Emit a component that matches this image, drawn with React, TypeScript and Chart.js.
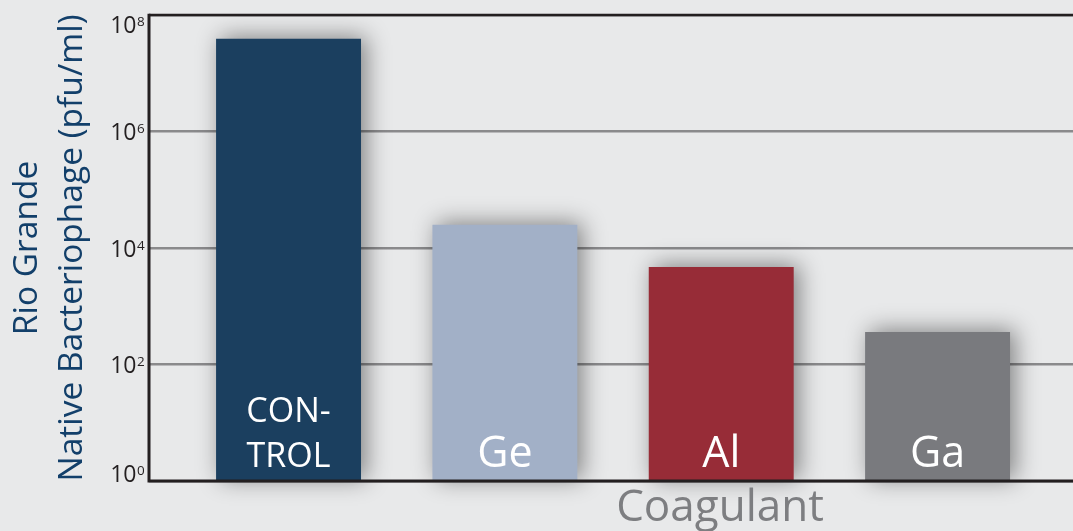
import React, { useEffect, useRef } from "react";
import { Chart, registerables } from "chart.js";

Chart.register(...registerables);

const categories = ["CONTROL", "Ge", "Al", "Ga"];
const barLabels = [["CON-", "TROL"], ["Ge"], ["Al"], ["Ga"]];
const phageValues = [3.9e7, 2.5e4, 4.7e3, 360];
const barColors = ["#1b3f5f", "#a2b0c7", "#972c37", "#797a7e"];
const tickValues = [1, 1e2, 1e4, 1e6, 1e8];
const tickExponents = ["0", "2", "4", "6", "8"];
const yTitleLines = ["Rio Grande", "Native Bacteriophage (pfu/ml)"];
const xTitle = "Coagulant";

const FONT = "'Open Sans', 'Noto Sans', sans-serif";

export default function App() {
  const canvasRef = useRef<HTMLCanvasElement | null>(null);

  useEffect(() => {
    document.body.style.margin = "0";
    document.body.style.background = "#e8e9ea";
    const canvas = canvasRef.current;
    if (!canvas) return;

    const shadowPlugin = {
      id: "barShadow",
      beforeDatasetsDraw(chart: any) {
        const ctx = chart.ctx;
        ctx.save();
        ctx.shadowColor = "rgba(0,0,0,0.45)";
        ctx.shadowBlur = 22;
        ctx.shadowOffsetX = 5;
        ctx.shadowOffsetY = -2;
      },
      afterDatasetsDraw(chart: any) {
        chart.ctx.restore();
      },
    };

    const decorPlugin = {
      id: "decor",
      afterDraw(chart: any) {
        const ctx = chart.ctx;
        const area = chart.chartArea;
        const yScale = chart.scales.y;

        // frame lines
        ctx.save();
        ctx.strokeStyle = "#231f20";
        ctx.lineWidth = 2.5;
        ctx.beginPath();
        ctx.moveTo(area.left, area.top);
        ctx.lineTo(area.right, area.top);
        ctx.stroke();
        ctx.lineWidth = 3;
        ctx.beginPath();
        ctx.moveTo(area.left, area.top - 1.25);
        ctx.lineTo(area.left, area.bottom + 1.5);
        ctx.moveTo(area.left - 1.5, area.bottom);
        ctx.lineTo(area.right, area.bottom);
        ctx.stroke();
        ctx.restore();

        // tick labels with superscripts
        ctx.save();
        ctx.fillStyle = "#231f20";
        tickValues.forEach((v, i) => {
          const py = yScale.getPixelForValue(v);
          let center = py;
          if (center < area.top + 9) center = area.top + 9;
          if (center > area.bottom - 8) center = area.bottom - 8;
          const baseline = center + 8.5;
          const supX = area.left - 12;
          ctx.font = `23px ${FONT}`;
          ctx.textAlign = "right";
          ctx.textBaseline = "alphabetic";
          ctx.fillText("10", supX - 0.5, baseline);
          ctx.font = `13.5px ${FONT}`;
          ctx.textAlign = "left";
          ctx.fillText(tickExponents[i], supX, baseline - 7);
        });
        ctx.restore();

        // bar labels
        const meta = chart.getDatasetMeta(0);
        ctx.save();
        ctx.fillStyle = "#ffffff";
        ctx.textAlign = "center";
        ctx.textBaseline = "alphabetic";
        meta.data.forEach((bar: any, i: number) => {
          const lines = barLabels[i];
          if (lines.length > 1) {
            ctx.font = `34px ${FONT}`;
            const lh = 45;
            lines.forEach((t: string, j: number) => {
              ctx.fillText(t, bar.x, area.bottom - 14 - (lines.length - 1 - j) * lh);
            });
          } else {
            ctx.font = `43px ${FONT}`;
            ctx.fillText(lines[0], bar.x, area.bottom - 14);
          }
        });
        ctx.restore();

        // y title
        ctx.save();
        ctx.fillStyle = "#123f6a";
        ctx.font = `33.5px ${FONT}`;
        ctx.textAlign = "center";
        ctx.textBaseline = "alphabetic";
        const cy = (area.top + area.bottom) / 2;
        const baseXs = [37, 82];
        yTitleLines.forEach((t, i) => {
          ctx.save();
          ctx.translate(baseXs[i], cy);
          ctx.rotate(-Math.PI / 2);
          ctx.fillText(t, 0, 0);
          ctx.restore();
        });
        ctx.restore();

        // x title
        ctx.save();
        ctx.fillStyle = "#7d7e81";
        ctx.font = `44px ${FONT}`;
        ctx.textAlign = "center";
        ctx.textBaseline = "alphabetic";
        ctx.fillText(xTitle, 720, area.bottom + 40);
        ctx.restore();
      },
    };

    const chart = new Chart(canvas, {
      type: "bar",
      data: {
        datasets: [
          {
            label: "Native Bacteriophage",
            data: phageValues.map((v, i) => ({ x: i, y: v })),
            backgroundColor: barColors,
            borderWidth: 0,
            categoryPercentage: 1,
            barPercentage: 0.67,
            clip: false as any,
          },
        ],
        labels: categories,
      },
      options: {
        animation: false,
        responsive: false,
        maintainAspectRatio: false,
        layout: { padding: { left: 149, top: 15, right: 0, bottom: 50 } },
        plugins: {
          legend: { display: false },
          tooltip: { enabled: false },
        },
        scales: {
          x: {
            type: "linear",
            min: -0.645,
            max: 3.626,
            offset: false,
            display: false,
            afterBuildTicks: (scale: any) => {
              scale.ticks = categories.map((_, i) => ({ value: i }));
            },
          },
          y: {
            type: "logarithmic",
            min: 1,
            max: 1e8,
            afterBuildTicks: (scale: any) => {
              scale.ticks = tickValues.map((v) => ({ value: v }));
            },
            ticks: { display: false },
            grid: {
              drawTicks: false,
              color: "#8a8a8c",
              lineWidth: 2.5,
            },
            border: { display: false },
          },
        },
      },
      plugins: [shadowPlugin, decorPlugin],
    } as any);

    return () => chart.destroy();
  }, []);

  return (
    <div style={{ width: 1073, height: 531, background: "#e8e9ea" }}>
      <canvas ref={canvasRef} width={1073} height={531} style={{ display: "block" }} />
    </div>
  );
}
